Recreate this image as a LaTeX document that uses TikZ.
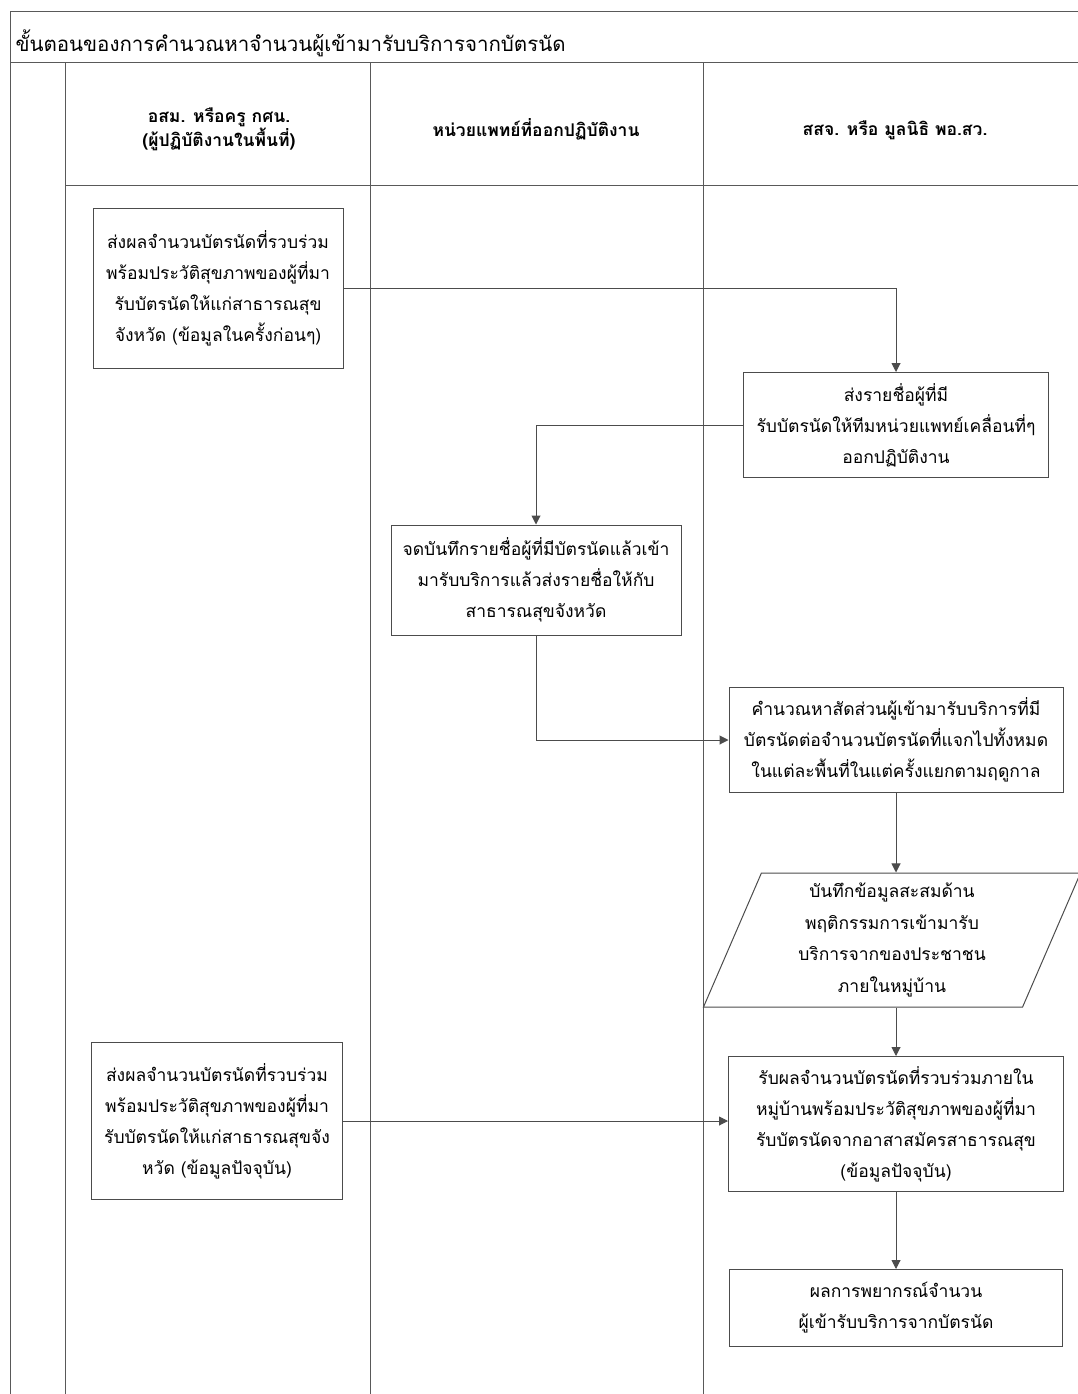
\documentclass[tikz,border=0pt]{standalone}
\usepackage{fontspec}
\setmainfont[Script=Thai]{Loma}
\usetikzlibrary{shapes.geometric, arrows.meta, positioning}

\begin{document}
\begin{tikzpicture}[
        x=1pt, y=-1pt,
        box/.style={rectangle, draw=black!70, line width=1pt, align=center, inner sep=0pt, font=\fontsize{17.5}{31}\selectfont},
        parabox/.style={trapezium, trapezium left angle=63, trapezium right angle=117, trapezium stretches body, draw=black!70, line width=1pt, align=center, inner sep=0pt, font=\fontsize{17.5}{31.5}\selectfont},
        lane/.style={draw=black!65, line width=1pt},
        head/.style={align=center, font=\bfseries\fontsize{17.5}{24}\selectfont},
        arrow/.style={-{Triangle[width=9pt,length=9pt]}, line width=1pt, draw=black!70}
    ]
    \useasboundingbox (0,0) rectangle (1078,1394);

    % Lanes
    \draw [lane] (10,12) -- (1078,12);
    \draw [lane] (10,12) -- (10,1394);
    \draw [lane] (10,63) -- (1078,63);
    \draw [lane] (65,185) -- (1078,185);
    \draw [lane] (65,63) -- (65,1394);
    \draw [lane] (370,63) -- (370,1394);
    \draw [lane] (703,63) -- (703,1394);

    \node (title) [anchor=base west, font=\fontsize{20.5}{26}\selectfont] at (12,52) {ขั้นตอนของการคำนวณหาจำนวนผู้เข้ามารับบริการจากบัตรนัด};

    \node (osm) [head] at (219,129) {อสม. หรือครู กศน. \\ (ผู้ปฏิบัติงานในพื้นที่)};
    \node (unit) [head] at (536,129) {หน่วยแพทย์ที่ออกปฏิบัติงาน};
    \node (ssj) [head] at (895,130) {สสจ. หรือ มูลนิธิ พอ.สว.};

    % Nodes
    \node (sendold) [box, minimum width=250pt, minimum height=160pt] at (218,288) {ส่งผลจำนวนบัตรนัดที่รวบร่วม \\ พร้อมประวัติสุขภาพของผู้ที่มา \\ รับบัตรนัดให้แก่สาธารณสุข \\ จังหวัด (ข้อมูลในครั้งก่อนๆ)};

    \node (sendlist) [box, minimum width=305pt, minimum height=105pt] at (896,425) {ส่งรายชื่อผู้ที่มี \\ รับบัตรนัดให้ทีมหน่วยแพทย์เคลื่อนที่ๆ \\ ออกปฏิบัติงาน};

    \node (record) [box, minimum width=290pt, minimum height=110pt] at (536,580) {จดบันทึกรายชื่อผู้ที่มีบัตรนัดแล้วเข้า \\ มารับบริการแล้วส่งรายชื่อให้กับ \\ สาธารณสุขจังหวัด};

    \node (ratio) [box, minimum width=334pt, minimum height=105pt] at (896,740) {คำนวณหาสัดส่วนผู้เข้ามารับบริการที่มี \\ บัตรนัดต่อจำนวนบัตรนัดที่แจกไปทั้งหมด \\ ในแต่ละพื้นที่ในแต่ครั้งแยกตามฤดูกาล};

    \node (store) [parabox, minimum width=377pt, minimum height=134pt] at (892,940) {บันทึกข้อมูลสะสมด้าน \\ พฤติกรรมการเข้ามารับ \\ บริการจากของประชาชน \\ ภายในหมู่บ้าน};

    \node (sendnow) [box, minimum width=251pt, minimum height=157pt] at (217,1121) {ส่งผลจำนวนบัตรนัดที่รวบร่วม \\ พร้อมประวัติสุขภาพของผู้ที่มา \\ รับบัตรนัดให้แก่สาธารณสุขจัง \\ หวัด (ข้อมูลปัจจุบัน)};

    \node (receive) [box, minimum width=335pt, minimum height=135pt] at (896,1124) {รับผลจำนวนบัตรนัดที่รวบร่วมภายใน \\ หมู่บ้านพร้อมประวัติสุขภาพของผู้ที่มา \\ รับบัตรนัดจากอาสาสมัครสาธารณสุข \\ (ข้อมูลปัจจุบัน)};

    \node (forecast) [box, minimum width=333pt, minimum height=77pt] at (896,1308) {ผลการพยากรณ์จำนวน \\ ผู้เข้ารับบริการจากบัตรนัด};

    % Arrows
    \draw [arrow] (sendold.east) -| (sendlist.north);
    \draw [arrow] (sendlist.west) -| (record.north);
    \draw [arrow] (record.south) |- (ratio.west);
    \draw [arrow] (ratio.south) -- (ratio.south |- store.north);
    \draw [arrow] (ratio.south |- store.south) -- (receive.north);
    \draw [arrow] (sendnow.east) -- (sendnow.east -| receive.west);
    \draw [arrow] (receive.south) -- (forecast.north);

\end{tikzpicture}
\end{document}
